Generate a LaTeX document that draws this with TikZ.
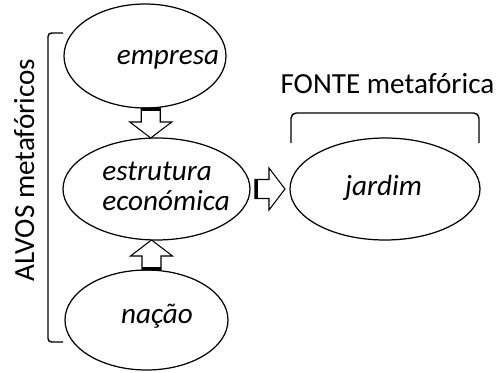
\documentclass[tikz,border=0pt]{standalone}
\usepackage{fontspec}
\setmainfont{Carlito}
\usetikzlibrary{shapes.geometric,calc}
\tikzset{
  oval/.style={draw, ellipse, line width=0.7pt, inner sep=0pt},
  txt/.style={font=\fontsize{16.6}{17.1}\selectfont\itshape, inner sep=0pt},
  lbl/.style={font=\fontsize{16.6}{17.1}\selectfont, inner sep=0pt},
  blockarrow/.pic={
    \draw[fill=white, line width=0.6pt] (-0.3,0.19) -- (-0.02,0.19) -- (-0.02,0.42) -- (0.3,0) -- (-0.02,-0.42) -- (-0.02,-0.19) -- (-0.3,-0.19) -- cycle;
    \fill (-0.3,-0.19) rectangle (-0.24,0.19);
  }
}
\begin{document}
\begin{tikzpicture}
\useasboundingbox (0,0) rectangle (9.96,7.44);
% targets
\node[oval, minimum width=3.24cm, minimum height=2.08cm] (empresa) at (2.90,6.32) {};
\node[txt, anchor=base] (empresa text) at ([xshift=0.46cm, yshift=-0.18cm]empresa.center) {empresa};
\node[oval, minimum width=3.74cm, minimum height=2.04cm] (eco) at (3.13,3.66) {};
\node[txt, anchor=west, align=left] (eco text) at ([xshift=-1.09cm, yshift=0.06cm]eco.center) {estrutura\\económica};
\node[oval, minimum width=3.26cm, minimum height=2.0cm] (nacao) at (2.93,1.04) {};
\node[txt, anchor=base] (nacao text) at ([xshift=0.21cm, yshift=-0.06cm]nacao.center) {nação};

% source
\node[oval, minimum width=3.8cm, minimum height=2.04cm] (jardim) at (7.70,3.66) {};
\node[txt, anchor=base] (jardim text) at ([xshift=-0.03cm, yshift=-0.12cm]jardim.center) {jardim};

\pic[rotate=-90] at ($(empresa.south)!0.5!(eco.north)$) {blockarrow};
\pic[rotate=90] at ($(nacao.north)!0.5!(eco.south)$) {blockarrow};
\pic at ($(eco.east)!0.5!(jardim.west)$) {blockarrow};

% brackets
\draw[line width=0.8pt, rounded corners=2pt] (1.26,6.78) -- (0.96,6.78) -- (0.96,0.60) -- (1.26,0.60);
\node[lbl, rotate=90, anchor=base] (alvos) at (0.68,4.04) {ALVOS metafóricos};
\draw[line width=0.8pt, rounded corners=3pt] (5.82,4.58) -- (5.82,5.18) -- (9.58,5.18) -- (9.58,4.58);
\node[lbl, anchor=base] (fonte) at (7.75,5.58) {FONTE metafórica};
\end{tikzpicture}
\end{document}
